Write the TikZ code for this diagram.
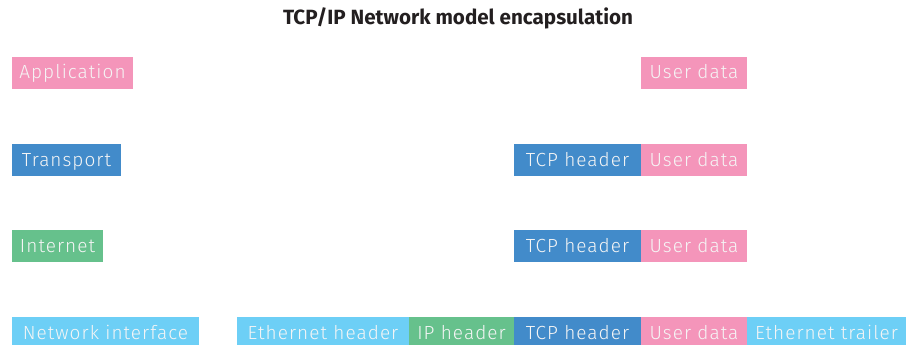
\documentclass[tikz,border=0pt]{standalone}
\usepackage{fontspec}
\setmainfont{Fira Sans}
\definecolor{apppink}{HTML}{F495BA}
\definecolor{tcpblue}{HTML}{428BCA}
\definecolor{ipgreen}{HTML}{66C18C}
\definecolor{ethblue}{HTML}{6DCFF6}
\definecolor{titleink}{HTML}{231F20}
\newfontfamily\segfont[LetterSpace=5.5]{Fira Sans Light}
\begin{document}
\begin{tikzpicture}[x=1pt,y=-1pt,
  seg/.style={fill=#1, text=white!96!black, font=\segfont\fontsize{19}{21}\selectfont,
    minimum height=32pt, inner xsep=0pt, inner ysep=8pt,
    text height=14pt, text depth=2pt, anchor=north west, outer sep=0pt},
  w/.style={minimum width=#1pt}]
\useasboundingbox (0,0) rectangle (906,345);
\fill[white] (0,0) rectangle (906,345);
\node[text=titleink, font=\bfseries\fontsize{20.6}{22}\selectfont] (title) at (458,18.5) {TCP/IP Network model encapsulation};
% layer labels
\node[seg=apppink, w=121] (app) at (12,57) {Application};
\node[seg=tcpblue, w=109] (trans) at (12,144) {Transport};
\node[seg=ipgreen, w=91] (inet) at (12,230) {Internet};
\node[seg=ethblue, w=187] (nif) at (12,317) {Network interface};
% application layer
\node[seg=apppink, w=106] (ud1) at (641,57) {User data};
% transport layer
\node[seg=tcpblue, w=127] (tcp2) at (514,144) {TCP header};
\node[seg=apppink, w=106] (ud2) at (641,144) {User data};
% internet layer
\node[seg=tcpblue, w=127] (tcp3) at (514,230) {TCP header};
\node[seg=apppink, w=106] (ud3) at (641,230) {User data};
% network interface layer
\node[seg=ethblue, w=172] (ethh) at (237,317) {Ethernet header};
\node[seg=ipgreen, w=105] (iph) at (409,317) {IP header};
\node[seg=tcpblue, w=127] (tcp4) at (514,317) {TCP header};
\node[seg=apppink, w=106] (ud4) at (641,317) {User data};
\node[seg=ethblue, w=159] (etht) at (747,317) {Ethernet trailer};
\end{tikzpicture}
\end{document}
